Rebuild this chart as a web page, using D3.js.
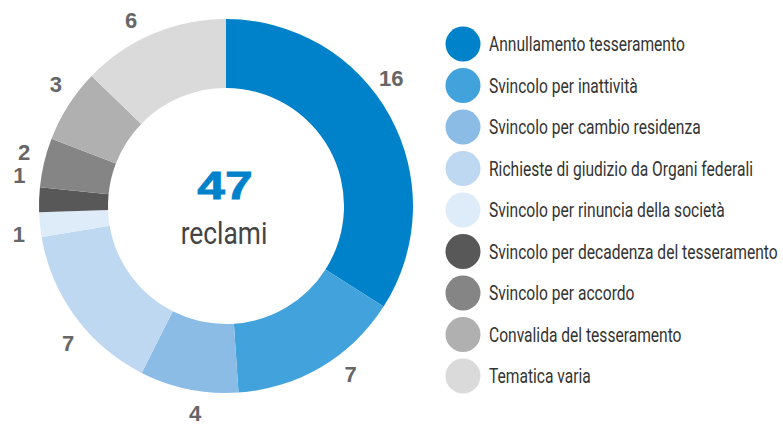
<!DOCTYPE html>
<html>
<head>
<meta charset="utf-8">
<script src="https://cdn.jsdelivr.net/npm/d3@7"></script>
<style>
  body { margin: 0; background: #fff; }
  svg { display: block; }
</style>
</head>
<body>
<svg id="chart"></svg>
<script>
const width = 783; // Width of the SVG
const height = 424; // Height of the SVG

// Categories and values, clockwise from 12 o'clock
const categories = [
  "Annullamento tesseramento",
  "Svincolo per inattività",
  "Svincolo per cambio residenza",
  "Richieste di giudizio da Organi federali",
  "Svincolo per rinuncia della società",
  "Svincolo per decadenza del tesseramento",
  "Svincolo per accordo",
  "Convalida del tesseramento",
  "Tematica varia",
];
const values = [16, 7, 4, 7, 1, 1, 2, 3, 6];
const totalLabel = "reclami";

// Slice colors
const colors = [
  "#0082ca",
  "#42a3dc",
  "#8bbce6",
  "#bed8f2",
  "#deebf9",
  "#585858",
  "#858585",
  "#b0b0b0",
  "#dadada",
];

// Small angle nudges (degrees) so the value labels don't crowd
const labelNudge = [-9, -6, -3, -4.5, -2, 6.5, 1.5, 3, -4];

const cx = 226,
  cy = 206;
const outerR = 187,
  innerR = 118,
  labelR = 209;

// no condensed face installed, so squeeze the regular one
const narrow = 0.8;

const svg = d3.select("#chart").attr("width", width).attr("height", height);

const color = d3.scaleOrdinal().domain(categories).range(colors);

const pie = d3.pie().sort(null).value((d) => d.value);
const arcs = pie(categories.map((c, i) => ({ name: c, value: values[i] })));

const arc = d3.arc().innerRadius(innerR).outerRadius(outerR);

const g = svg.append("g").attr("transform", `translate(${cx},${cy})`);

// Slices
g.selectAll("path")
  .data(arcs)
  .enter()
  .append("path")
  .attr("d", arc)
  .attr("fill", (d) => color(d.data.name));

// Value labels around the ring
const labelAngle = (d, i) =>
  (d.startAngle + d.endAngle) / 2 + (labelNudge[i] * Math.PI) / 180;

g.selectAll("text.value")
  .data(arcs)
  .enter()
  .append("text")
  .attr("class", "value")
  .attr("x", (d, i) => labelR * Math.sin(labelAngle(d, i)))
  .attr("y", (d, i) => -labelR * Math.cos(labelAngle(d, i)))
  .attr("dy", "0.36em")
  .attr("text-anchor", "middle")
  .attr("font-family", "Liberation Sans, Arial, sans-serif")
  .attr("font-weight", "bold")
  .attr("font-size", 22)
  .attr("fill", "#666")
  .text((d) => d.value);

// Total in the middle
g.append("text")
  .attr("transform", "translate(-1,-7) scale(1.28,1)")
  .attr("text-anchor", "middle")
  .attr("font-family", "Liberation Sans, Arial, sans-serif")
  .attr("font-weight", "bold")
  .attr("font-size", 39)
  .attr("fill", "#0082ca")
  .attr("stroke", "#0082ca")
  .attr("stroke-width", 0.8)
  .text(d3.sum(values));

g.append("text")
  .attr("transform", "translate(-2,38) scale(0.85,1)")
  .attr("text-anchor", "middle")
  .attr("font-family", "Roboto, sans-serif")
  .attr("font-size", 31)
  .attr("fill", "#444")
  .text(totalLabel);

// Legend
const ly = d3.scalePoint().domain(categories).range([44, 376]);

const legend = svg
  .append("g")
  .selectAll("g")
  .data(categories)
  .enter()
  .append("g")
  .attr("transform", (d) => `translate(463,${ly(d)})`);

legend
  .append("circle")
  .attr("r", 17.5)
  .attr("fill", (d) => color(d));

legend
  .append("text")
  .attr("transform", `translate(26,0) scale(${narrow},1)`)
  .attr("dy", "0.36em")
  .attr("font-family", "Roboto, sans-serif")
  .attr("font-size", 19.5)
  .attr("fill", "#333")
  .text((d) => d);
</script>
</body>
</html>
